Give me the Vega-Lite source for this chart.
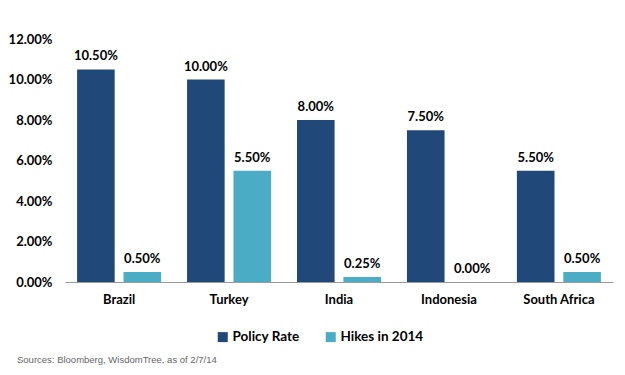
{
  "$schema": "https://vega.github.io/schema/vega-lite/v6.json",
  "autosize": "none",
  "width": 548,
  "height": 243,
  "padding": {"left": 65, "top": 39, "right": 12, "bottom": 93},
  "background": "white",
  "config": {
    "view": {"stroke": null},
    "font": "Lato"
  },
  "title": {
    "text": "Sources: Bloomberg, WisdomTree, as of 2/7/14",
    "orient": "bottom",
    "anchor": "start",
    "frame": "group",
    "dx": -48,
    "offset": 11,
    "font": "Liberation Sans",
    "fontSize": 9.5,
    "fontWeight": "normal",
    "color": "#666666"
  },
  "data": {
    "values": [
      {"country": "Brazil", "series": "Policy Rate", "value": 0.105},
      {"country": "Brazil", "series": "Hikes in 2014", "value": 0.005},
      {"country": "Turkey", "series": "Policy Rate", "value": 0.10},
      {"country": "Turkey", "series": "Hikes in 2014", "value": 0.055},
      {"country": "India", "series": "Policy Rate", "value": 0.08},
      {"country": "India", "series": "Hikes in 2014", "value": 0.0025},
      {"country": "Indonesia", "series": "Policy Rate", "value": 0.075},
      {"country": "Indonesia", "series": "Hikes in 2014", "value": 0.0},
      {"country": "South Africa", "series": "Policy Rate", "value": 0.055},
      {"country": "South Africa", "series": "Hikes in 2014", "value": 0.005}
    ]
  },
  "encoding": {
    "x": {
      "field": "country",
      "type": "nominal",
      "sort": null,
      "scale": {"paddingInner": 0.236, "paddingOuter": 0.11},
      "axis": {
        "title": null,
        "labelAngle": 0,
        "ticks": false,
        "domainColor": "#999999",
        "labelFont": "Lato",
        "labelFontWeight": "bold",
        "labelFontSize": 13,
        "labelColor": "#000000",
        "labelPadding": 11
      }
    },
    "xOffset": {
      "field": "series",
      "type": "nominal",
      "sort": ["Policy Rate", "Hikes in 2014"],
      "scale": {"paddingInner": 0.19}
    },
    "y": {
      "field": "value",
      "type": "quantitative",
      "scale": {"domain": [0, 0.12]},
      "axis": {
        "title": null,
        "format": ".2%",
        "values": [0, 0.02, 0.04, 0.06, 0.08, 0.10, 0.12],
        "grid": false,
        "domain": false,
        "ticks": false,
        "labelFont": "Lato",
        "labelFontWeight": "bold",
        "labelFontSize": 13,
        "labelColor": "#000000",
        "labelPadding": 13
      }
    }
  },
  "layer": [
    {
      "mark": {"type": "bar"},
      "encoding": {
        "color": {
          "field": "series",
          "type": "nominal",
          "sort": ["Policy Rate", "Hikes in 2014"],
          "scale": {"domain": ["Policy Rate", "Hikes in 2014"], "range": ["#20497A", "#4BACC6"]},
          "legend": {
            "title": null,
            "orient": "none",
            "direction": "horizontal",
            "legendX": 151,
            "legendY": 291,
            "symbolType": "square",
            "symbolSize": 100,
            "symbolStrokeWidth": 0,
            "labelFont": "Lato",
            "labelFontWeight": "bold",
            "labelFontSize": 13.5,
            "labelColor": "#000000",
            "columnPadding": 24,
            "labelOffset": 3
          }
        }
      }
    },
    {
      "mark": {
        "type": "text",
        "baseline": "bottom",
        "dy": -6,
        "font": "Lato",
        "fontWeight": "bold",
        "fontSize": 13,
        "color": "#000000"
      },
      "encoding": {
        "text": {"field": "value", "type": "quantitative", "format": ".2%"}
      }
    }
  ]
}
